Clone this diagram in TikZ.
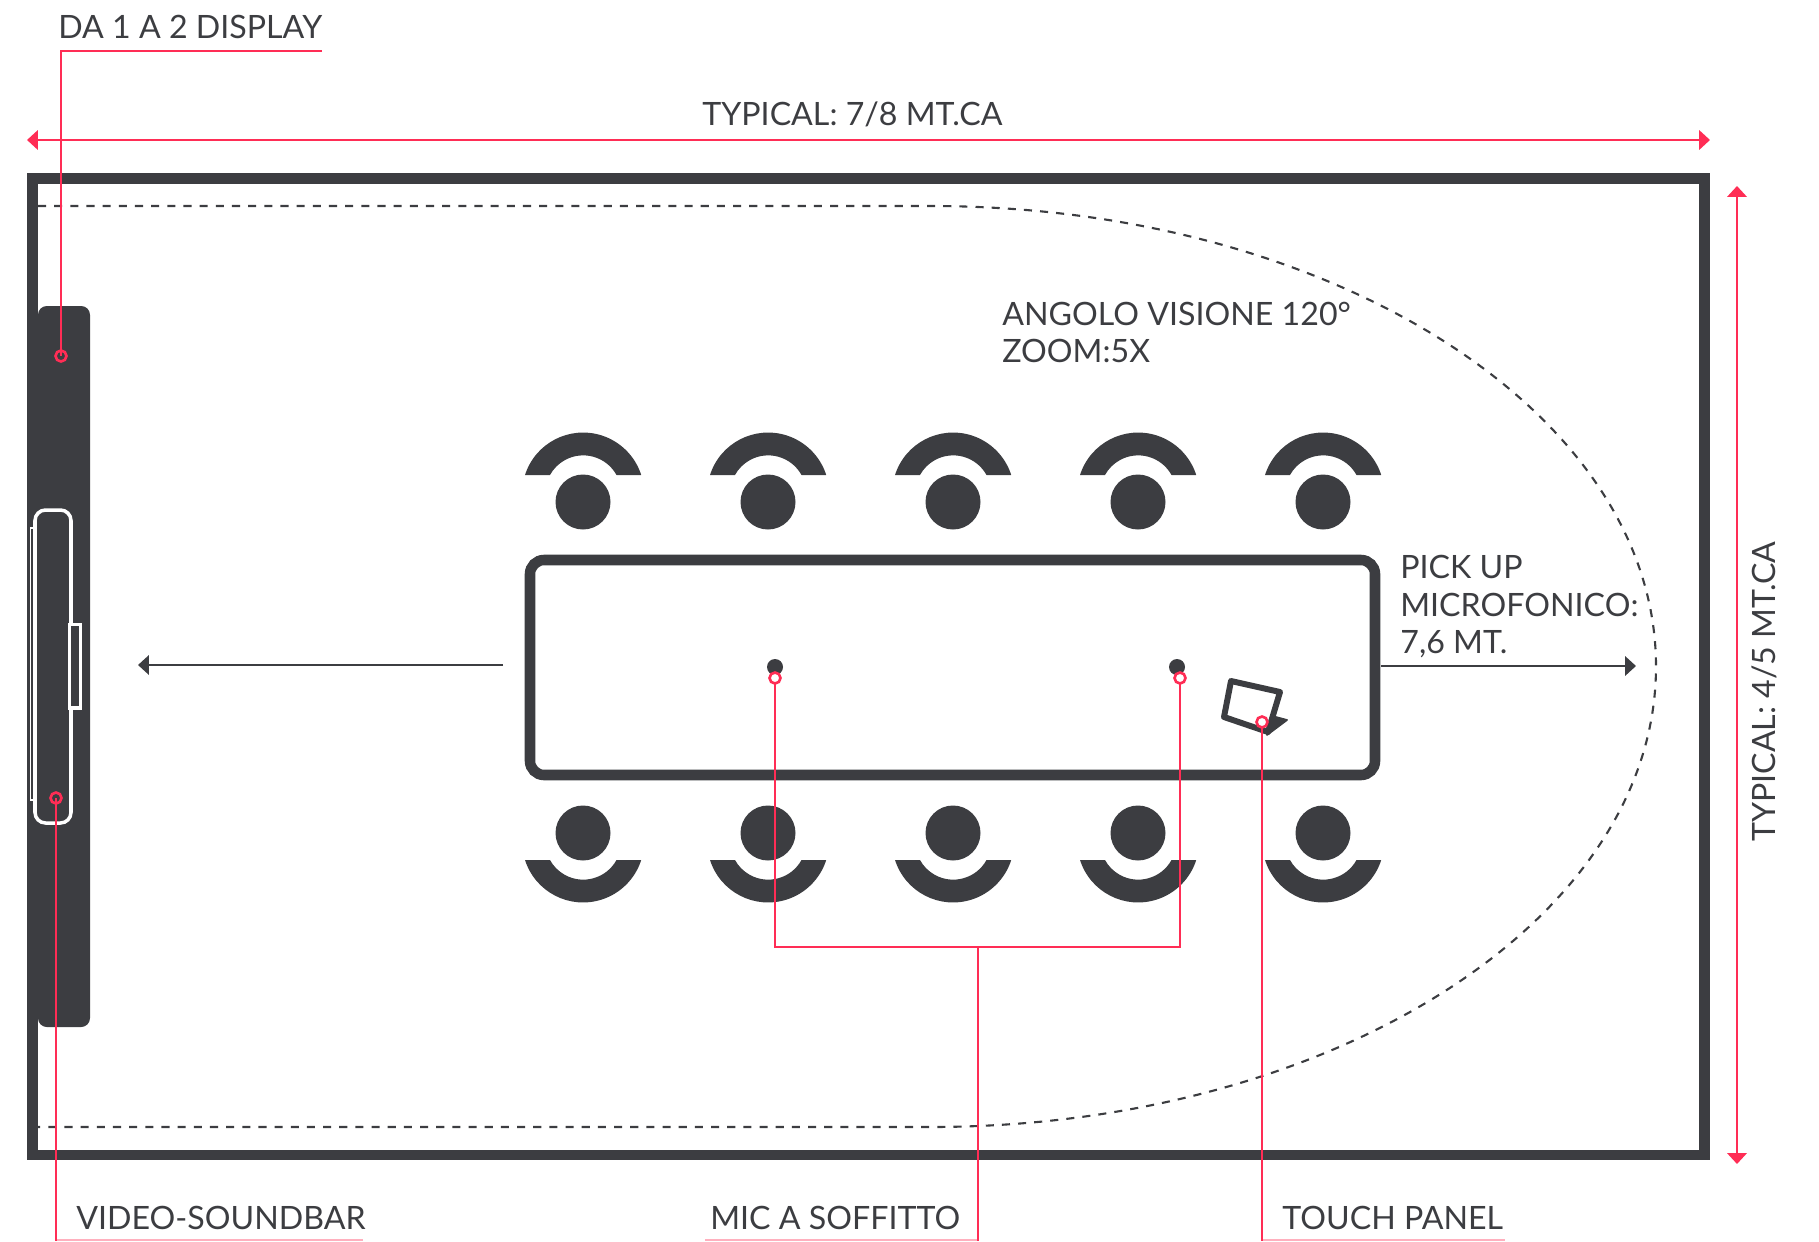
\documentclass[tikz,border=0pt]{standalone}
\usepackage{fontspec}
\setmainfont{Lato}
\usetikzlibrary{arrows.meta}
\definecolor{wallgray}{HTML}{3C3D41}
\definecolor{leadred}{HTML}{FF2D55}
\definecolor{leadpink}{HTML}{FFB0BE}
\tikzset{
  wall/.style = {draw=wallgray, line width=6.2pt},
  desk/.style = {draw=wallgray, line width=6pt},
  lead/.style = {draw=leadred, line width=1.5pt},
  rule/.style = {draw=leadpink, line width=0.8pt},
  measure/.style = {lead, {Triangle[length=6.2pt, width=11pt]}-{Triangle[length=6.2pt, width=11pt]}},
  pointer/.style = {draw=wallgray, line width=1.2pt, -{Triangle[length=6.2pt, width=11pt]}},
  label/.style = {text=wallgray, font=\fontsize{18.3}{22}\selectfont, inner sep=0pt, anchor=base west},
  cable/.style = {white, line width=2pt},
  ringdark/.style = {lead},
  ringwhite/.style = {lead, fill=white},
  seat/.pic = {
    \fill[wallgray] (0,0) circle (27.5);
    \fill[wallgray] (-58,-27) arc (197.7:342.3:61) -- (33.5,-27) arc (331.1:208.9:38) -- cycle;
  }
}
\begin{document}
\begin{tikzpicture}[x=0.02cm, y=-0.02cm]
\useasboundingbox (0,0) rectangle (1819,1241);
\draw[wall] (32.5,178.5) rectangle (1704.5,1155);
\draw[wallgray, line width=1.2pt, dash pattern=on 4.6pt off 4.6pt] (38,206) -- (930,206) arc (-90:90:726 and 460.5) -- (38,1127);
\fill[wallgray, rounded corners=5pt] (38,306) rectangle (90,1027);
\draw[cable, line width=1.1pt] (33,528) -- (30.5,528) -- (30.5,800) -- (33,800);
\draw[cable, rounded corners=6pt] (35,510) rectangle (71,823);
\draw[cable, fill=wallgray] (69.5,624.5) rectangle (80.5,708);
\foreach \seatx in {583,768,953,1138,1323}{
  \pic at (\seatx,502) {seat};
  \pic[yscale=-1] at (\seatx,833) {seat};
}
\draw[desk, rounded corners=8pt] (530,560) rectangle (1375,775);
\fill[wallgray] (775,667) circle (8);
\fill[wallgray] (1177,667) circle (8);
\filldraw[wallgray, line width=1pt, line join=round] (1272,716) -- (1287,720) -- (1267,735) -- cycle;
\draw[wallgray, line width=3.4pt, line join=round] (1231,681) -- (1280,692) -- (1268,732) -- (1224,717) -- cycle;
\node[label] (display) at (58,38.5) {DA 1 A 2 DISPLAY};
\node[label] (width) at (702,125) {TYPICAL: 7/8 MT.CA};
\node[label, rotate=90] (depth) at (1775,842) {TYPICAL: 4/5 MT.CA};
\node[label] (angle) at (1002,325) {ANGOLO VISIONE 120°};
\node[label] (zoom) at (1002,362) {ZOOM:5X};
\node[label] (pickup) at (1400,578) {PICK UP};
\node[label] (micro) at (1400,616) {MICROFONICO:};
\node[label] (range) at (1400,653) {7,6 MT.};
\node[label] (soundbar) at (76,1229) {VIDEO-SOUNDBAR};
\node[label] (mic) at (710,1229) {MIC A SOFFITTO};
\node[label] (panel) at (1282,1229) {TOUCH PANEL};
\coordinate (widthl) at (27,140);
\coordinate (widthr) at (1710,140);
\coordinate (deptht) at (1737,186);
\coordinate (depthb) at (1737,1164);
\coordinate (viewl) at (503,665);
\coordinate (viewt) at (138,665);
\coordinate (pickl) at (1381,666);
\coordinate (pickr) at (1636,666);
\draw[measure] (widthl) -- (widthr);
\draw[measure] (deptht) -- (depthb);
\draw[pointer] (viewl) -- (viewt);
\draw[pointer] (pickl) -- (pickr);
\coordinate (displaydot) at (61,356);
\coordinate (soundbardot) at (56,798);
\coordinate (micldot) at (775,678);
\coordinate (micrdot) at (1180,678);
\coordinate (panel dot) at (1262,722);
\coordinate (micjoin) at (978,947);
\draw[lead] (322,51) -- (61,51) -- (displaydot);
\draw[rule] (56,1240) -- (363,1240);
\draw[rule] (705,1240) -- (978,1240);
\draw[rule] (1262,1240) -- (1505,1240);
\draw[lead] (soundbardot) -- (56,1241);
\draw[lead] (micldot) |- (micjoin) -| (micrdot);
\draw[lead] (micjoin) -- (978,1241);
\draw[lead] (panel dot) -- (1262,1241);
\draw[ringdark] (displaydot) circle (5.5);
\draw[ringdark] (soundbardot) circle (5.5);
\draw[ringwhite] (micldot) circle (5.5);
\draw[ringwhite] (micrdot) circle (5.5);
\draw[ringwhite] (panel dot) circle (5.5);
\end{tikzpicture}
\end{document}
